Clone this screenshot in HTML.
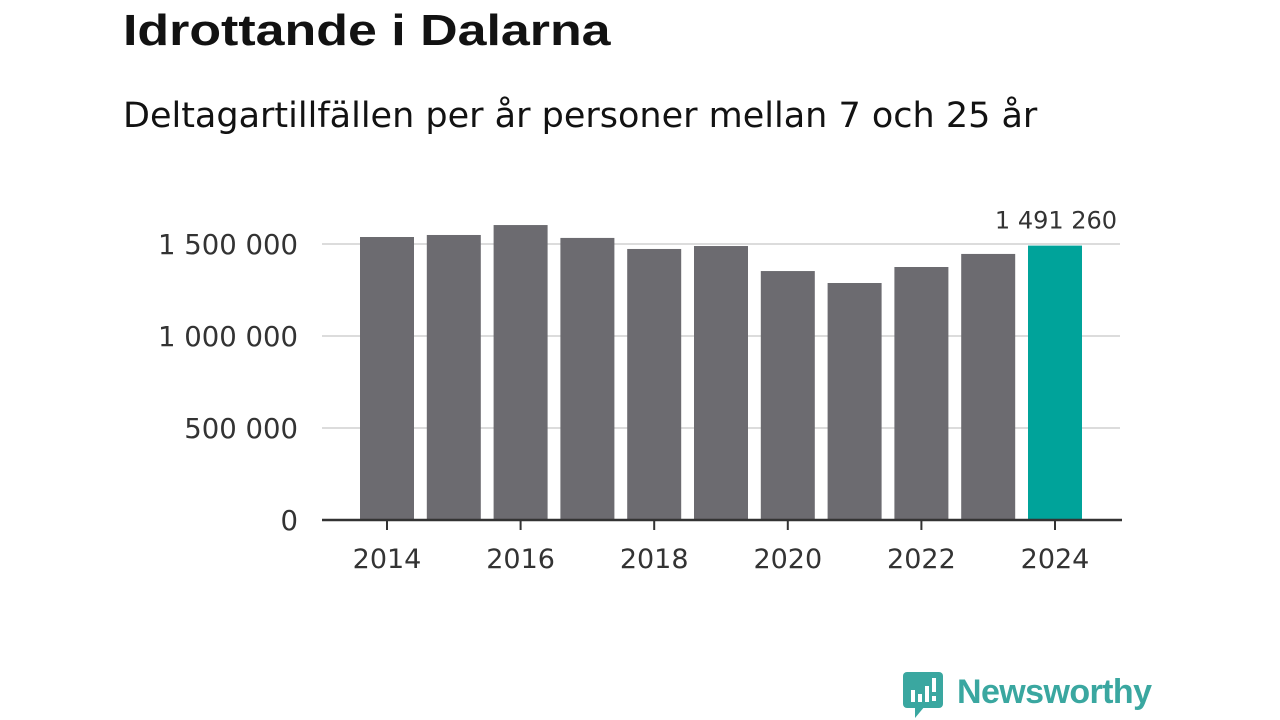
<!DOCTYPE html>
<html><head><meta charset="utf-8"><style>
body{margin:0;width:1280px;height:720px;background:#fff;overflow:hidden;font-family:"Liberation Sans","DejaVu Sans",sans-serif;}
#t{position:absolute;left:123px;top:6px;font-size:44px;font-weight:bold;color:#121212;margin:0;transform:scaleX(1.18);transform-origin:left top;white-space:nowrap}
#s{position:absolute;left:123px;top:96px;font-size:35px;color:#121212;margin:0;font-family:"DejaVu Sans",sans-serif;white-space:nowrap}
svg{position:absolute;left:0;top:0}
text{font-family:"DejaVu Sans",sans-serif;fill:#333}
</style></head><body>
<h1 id="t">Idrottande i Dalarna</h1>
<p id="s">Deltagartillfällen per år personer mellan 7 och 25 år</p>
<svg id="c" width="1280" height="720">
<g id="logo">
<rect x="903" y="672" width="40" height="36" rx="4" fill="#3aa7a0"/>
<polygon points="915,706 925,706 915,718" fill="#3aa7a0"/>
<rect x="911" y="690" width="4" height="12" fill="#fff"/><rect x="918" y="694" width="4" height="8" fill="#fff"/><rect x="925" y="686" width="4" height="16" fill="#fff"/><rect x="932" y="678" width="4" height="14" fill="#fff"/><rect x="932" y="696" width="4" height="5" fill="#fff"/>
<text x="957" y="703" textLength="195" style="font-family:'Liberation Sans',sans-serif;font-size:34px;font-weight:bold;fill:#3aa7a0">Newsworthy</text>
</g>
</svg>
<script>
const years=[2014,2015,2016,2017,2018,2019,2020,2021,2022,2023,2024];
const values=[1538000,1549000,1603000,1533000,1473000,1489000,1353000,1288000,1375000,1446000,1491260];
const yTicks=[0,500000,1000000,1500000];
const yTickLabels=["0","500 000","1 000 000","1 500 000"];
const xTickYears=[2014,2016,2018,2020,2022,2024];
const highlightLabel="1 491 260";
const svg=document.getElementById('c');
const NS='http://www.w3.org/2000/svg';
const y=v=>520-v*276/1500000;
const x=yr=>387+(yr-2014)*66.8;
function mk(tag,a){const e=document.createElementNS(NS,tag);for(const k in a)e.setAttribute(k,a[k]);svg.appendChild(e);return e;}
yTicks.forEach((v,i)=>{
 if(v>0){const g=mk('line',{x1:322,x2:1120,y1:y(v),y2:y(v),stroke:'#dcdcdc','stroke-width':2});
 
 }
 const t=mk('text',{x:298,y:y(v)+10,'text-anchor':'end','font-size':27.5});t.textContent=yTickLabels[i];
 
 
});
years.forEach((yr,i)=>{
 const r=mk('rect',{x:x(yr)-27,y:y(values[i]),width:54,height:520-y(values[i]),fill:i==years.length-1?'#00a39a':'#6c6b70'});
 
 
});
const last=years.length-1;
const lbl=mk('text',{x:x(years[last])+1,y:y(values[last])-17,'text-anchor':'middle','font-size':24});lbl.textContent=highlightLabel;


const ax=mk('line',{x1:322,x2:1122,y1:520,y2:520,stroke:'#333','stroke-width':2.5});


xTickYears.forEach(yr=>{
 const tk=mk('line',{x1:x(yr),x2:x(yr),y1:520,y2:530,stroke:'#333','stroke-width':2});
 
 
 const t=mk('text',{x:x(yr),y:568,'text-anchor':'middle','font-size':27});t.textContent=yr;
 
 
});
</script>
</body></html>
